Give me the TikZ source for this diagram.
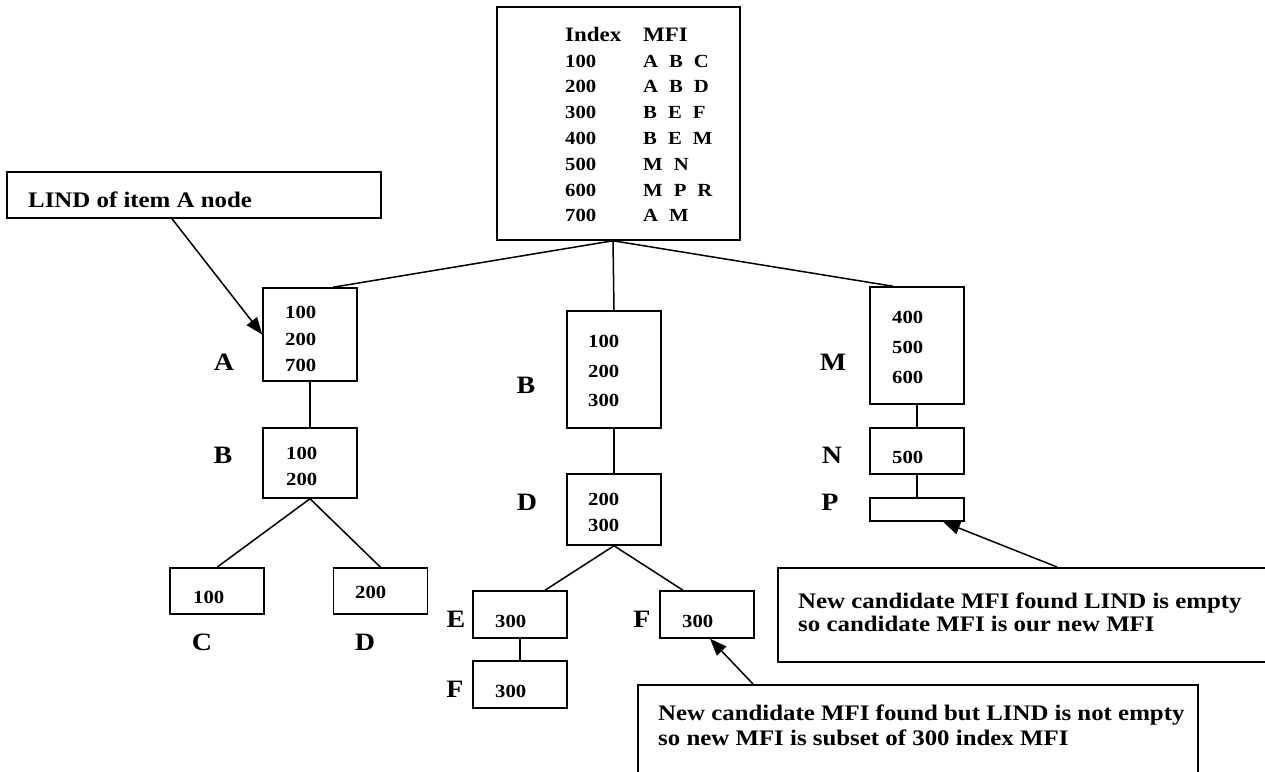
\documentclass[tikz,border=0pt]{standalone}
\usepackage{fontspec}
\setmainfont{Liberation Serif}[FakeStretch=1.12]
\usetikzlibrary{arrows.meta}
\begin{document}
\begin{tikzpicture}[x=1pt,y=-1pt,
  box/.style={draw, line width=1.5pt, inner sep=0pt, minimum width=94pt},
  num/.style={anchor=base west, inner sep=0pt, font=\bfseries\fontsize{18.5}{20}\selectfont},
  hd/.style={anchor=base west, inner sep=0pt, font=\bfseries\fontsize{20.5}{22}\selectfont},
  lab/.style={anchor=base, inner sep=0pt, font=\bfseries\fontsize{25}{28}\selectfont},
  note/.style={anchor=base west, inner sep=0pt, font=\bfseries\fontsize{22.2}{24}\selectfont},
  conn/.style={line width=1.5pt},
  arr/.style={line width=1.5pt, -{Triangle[length=17pt,width=13pt]}}]
\clip (0,0) rectangle (1265,771);
\fill[white] (0,0) rectangle (1265,771);
\def\g{\hspace{11pt}}
% boxes
\node[box, minimum width=243pt, minimum height=233pt] (root) at (618.5,123.5) {};
\node[box, minimum width=374pt, minimum height=46pt] (lind) at (194,195) {};
\node[box, minimum height=93pt] (Abox) at (310,334.5) {};
\node[box, minimum height=70pt] (ABbox) at (310,463) {};
\node[box, minimum height=46pt] (Cbox) at (217,591) {};
\node[box, minimum height=46pt] (Dbox) at (380.5,591) {};
\node[box, minimum height=117pt] (Bbox) at (614,369.5) {};
\node[box, minimum height=71pt] (BDbox) at (614,509.5) {};
\node[box, minimum height=47pt] (Ebox) at (520,614.5) {};
\node[box, minimum height=47pt] (EFbox) at (520,684.5) {};
\node[box, minimum height=47pt] (Fbox) at (707,614.5) {};
\node[box, minimum height=117pt] (Mbox) at (917,345.5) {};
\node[box, minimum height=46pt] (Nbox) at (917,451) {};
\node[box, minimum height=23pt] (Pbox) at (917,509.5) {};
\node[box, anchor=north west, minimum width=503pt, minimum height=94pt] (callR) at (777,567) {};
\node[box, anchor=north west, minimum width=560pt, minimum height=110pt] (callB) at (637,684) {};
% table
\node[hd] (tI) at (565,41) {Index};
\node[hd] (tM) at (643,41) {MFI};
\node[num] (r1a) at (565,67) {100};   \node[num] (r1b) at (643,67) {A\g B\g C};
\node[num] (r2a) at (565,92.8) {200}; \node[num] (r2b) at (643,92.8) {A\g B\g D};
\node[num] (r3a) at (565,118.6) {300};\node[num] (r3b) at (643,118.6) {B\g E\g F};
\node[num] (r4a) at (565,144.4) {400};\node[num] (r4b) at (643,144.4) {B\g E\g M};
\node[num] (r5a) at (565,170.2) {500};\node[num] (r5b) at (643,170.2) {M\g N};
\node[num] (r6a) at (565,196) {600};  \node[num] (r6b) at (643,196) {M\g P\g R};
\node[num] (r7a) at (565,221.8) {700};\node[num] (r7b) at (643,221.8) {A\g M};
% numbers in boxes
\node[num] (a1) at (285,318) {100};
\node[num] (a2) at (285,345) {200};
\node[num] (a3) at (285,371) {700};
\node[num] (ab1) at (286,459) {100};
\node[num] (ab2) at (286,485) {200};
\node[num] (c1) at (193,603) {100};
\node[num] (d1) at (355,598) {200};
\node[num] (b1) at (588,347) {100};
\node[num] (b2) at (588,377) {200};
\node[num] (b3) at (588,406) {300};
\node[num] (bd1) at (588,505) {200};
\node[num] (bd2) at (588,531) {300};
\node[num] (e1) at (495,627) {300};
\node[num] (ef1) at (495,697) {300};
\node[num] (f1) at (682,627) {300};
\node[num] (m1) at (892,323) {400};
\node[num] (m2) at (892,353) {500};
\node[num] (m3) at (892,383) {600};
\node[num] (n1) at (892,463) {500};
% labels
\node[lab] (lA) at (224,370) {A};
\node[lab] (lB) at (223,463) {B};
\node[lab] (lC) at (202,650) {C};
\node[lab] (lD) at (365,650) {D};
\node[lab] (lB2) at (526,393) {B};
\node[lab] (lD2) at (527,510) {D};
\node[lab] (lE) at (456,627) {E};
\node[lab] (lF) at (455,697) {F};
\node[lab] (lF2) at (642,627) {F};
\node[lab] (lM) at (833,370) {M};
\node[lab] (lN) at (832,463) {N};
\node[lab] (lP) at (830,510) {P};
% callout texts
\node[note] (tl) at (28,207) {LIND of item A node};
\node[note] (tr1) at (798,608) {New candidate MFI found LIND is empty};
\node[note] (tr2) at (798,631) {so candidate MFI is our new MFI};
\node[note] (tb1) at (658,720) {New candidate MFI found but LIND is not empty};
\node[note] (tb2) at (658,745) {so new MFI is subset of 300 index MFI};
% connectors
\coordinate (j) at ([xshift=-5.5pt]root.south);
\draw[conn] (j) -- ([xshift=23pt]Abox.north);
\draw[conn] (j) -- (Bbox.north);
\draw[conn] (j) -- ([xshift=-24pt]Mbox.north);
\draw[conn] (Abox.south) -- (ABbox.north);
\draw[conn] (ABbox.south) -- (Cbox.north);
\draw[conn] (ABbox.south) -- (Dbox.north);
\draw[conn] (Bbox.south) -- (BDbox.north);
\draw[conn] (BDbox.south) -- ([xshift=25pt]Ebox.north);
\draw[conn] (BDbox.south) -- ([xshift=-24pt]Fbox.north);
\draw[conn] (Ebox.south) -- (EFbox.north);
\draw[conn] (Mbox.south) -- (Nbox.north);
\draw[conn] (Nbox.south) -- (Pbox.north);
% arrows
\draw[arr] ([xshift=-22pt]lind.south) -- (Abox.west);
\draw[arr] ([xshift=280pt]callR.north west) -- ([xshift=26pt]Pbox.south);
\draw[arr] ([xshift=116pt]callB.north west) -- ([xshift=3pt]Fbox.south);
\end{tikzpicture}
\end{document}
